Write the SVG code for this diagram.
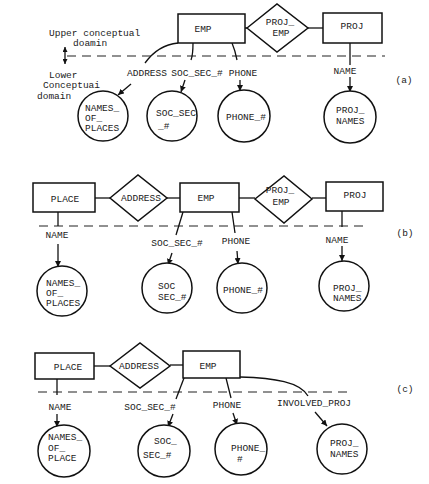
<svg xmlns="http://www.w3.org/2000/svg" width="429" height="484" viewBox="0 0 429 484">
<style>
text{font-family:"Liberation Mono","DejaVu Sans Mono",monospace;font-size:9.5px;fill:#222}
.m{text-anchor:middle}
.box{fill:#fff;stroke:#111;stroke-width:1.5}
.ln{fill:none;stroke:#111;stroke-width:1.3}
.ar{fill:none;stroke:#111;stroke-width:1.3;marker-end:url(#ah)}
.dash{fill:none;stroke:#222;stroke-width:1.2;stroke-dasharray:9 6}
</style>
<defs>
<marker id="ah" viewBox="0 0 10 10" refX="10" refY="5" markerWidth="6" markerHeight="6" markerUnits="userSpaceOnUse" orient="auto"><path d="M0,0L10,5L0,10z" fill="#111"/></marker>
<marker id="ahs" viewBox="0 0 10 10" refX="10" refY="5" markerWidth="5" markerHeight="5" markerUnits="userSpaceOnUse" orient="auto-start-reverse"><path d="M0,0L10,5L0,10z" fill="#111"/></marker>
</defs>
<rect width="429" height="484" fill="#fff"/>

<!-- Panel (a) -->
<g id="a-connectors">
<line class="dash" x1="67" y1="56" x2="385" y2="56"/>
<line class="ln" x1="65" y1="47" x2="65" y2="64" style="marker-start:url(#ahs);marker-end:url(#ahs)"/>
<line class="ln" x1="245" y1="28" x2="247" y2="28"/>
<line class="ln" x1="308" y1="28" x2="323" y2="28"/>
<path class="ln" d="M178,43 Q158,45 145,63"/>
<path class="ln" d="M193,43 Q193,55 191,60"/>
<path class="ln" d="M232,43 Q235,50 237,60"/>
<line class="ln" x1="350" y1="43" x2="350" y2="65"/>
<line class="ar" x1="131" y1="84" x2="118" y2="95"/>
<line class="ar" x1="185" y1="80" x2="181" y2="92"/>
<line class="ar" x1="240" y1="80" x2="240" y2="91"/>
<line class="ar" x1="350" y1="77" x2="350" y2="92"/>
</g>
<g id="a-legend">
<text x="49" y="36">Upper conceptual</text>
<text x="73" y="46">doamin</text>
<text x="49" y="78">Lower</text>
<text x="43" y="88">Conceptuai</text>
<text x="37" y="98.5">domain</text>
<text class="m" x="404" y="83">(a)</text>
</g>
<g id="a-emp"><rect class="box" x="178" y="14" width="67" height="29"/><text class="m" x="203" y="32">EMP</text></g>
<g id="a-projemp"><polygon class="box" points="247,28 277,4 308,28 277,52"/><text class="m" x="280" y="25">PROJ_</text><text class="m" x="281" y="35.5">EMP</text></g>
<g id="a-proj"><rect class="box" x="323" y="13" width="59" height="30"/><text class="m" x="352" y="29">PROJ</text></g>
<g id="a-labels">
<text class="m" x="147" y="76">ADDRESS</text>
<text class="m" x="197" y="76">SOC_SEC_#</text>
<text class="m" x="243" y="76">PHONE</text>
<text class="m" x="345" y="74">NAME</text>
</g>
<g id="a-names-of-places"><circle class="box" cx="103" cy="116" r="25"/><text x="85" y="111">NAMES_</text><text x="85" y="121">OF_</text><text x="85" y="131">PLACES</text></g>
<g id="a-soc-sec"><circle class="box" cx="172" cy="116" r="25"/><text x="156" y="116">SOC_SEC</text><text x="158" y="129">_#</text></g>
<g id="a-phone"><circle class="box" cx="244" cy="116" r="26"/><text x="226" y="120">PHONE_#</text></g>
<g id="a-proj-names"><circle class="box" cx="350" cy="117" r="26"/><text x="336" y="113">PROJ_</text><text x="336" y="123.5">NAMES</text></g>

<!-- Panel (b) -->
<g id="b-connectors">
<line class="dash" x1="39" y1="226" x2="368" y2="226"/>
<line class="ln" x1="95" y1="198" x2="110" y2="198"/>
<line class="ln" x1="167" y1="198" x2="180" y2="198"/>
<line class="ln" x1="239" y1="198" x2="255" y2="198"/>
<line class="ln" x1="312" y1="198" x2="326" y2="198"/>
<line class="ln" x1="58" y1="212" x2="58" y2="226"/>
<line class="ln" x1="183" y1="212" x2="176" y2="235"/>
<line class="ln" x1="232" y1="212" x2="235" y2="233"/>
<line class="ln" x1="342" y1="211" x2="342" y2="227"/>
<line class="ar" x1="58" y1="244" x2="58" y2="267"/>
<line class="ar" x1="172" y1="253" x2="168" y2="265"/>
<line class="ar" x1="237" y1="251" x2="238" y2="264"/>
<line class="ar" x1="342" y1="246" x2="342" y2="261"/>
</g>
<g id="b-place"><rect class="box" x="33" y="183" width="62" height="29"/><text class="m" x="65" y="202">PLACE</text></g>
<g id="b-address"><polygon class="box" points="110,198 138,175 167,198 138,221"/><text class="m" x="141" y="201">ADDRESS</text></g>
<g id="b-emp"><rect class="box" x="180" y="183" width="59" height="29"/><text class="m" x="206" y="201">EMP</text></g>
<g id="b-projemp"><polygon class="box" points="255,199 284,176 312,199 284,223"/><text class="m" x="280" y="193">PROJ_</text><text class="m" x="281" y="205">EMP</text></g>
<g id="b-proj"><rect class="box" x="326" y="182" width="57" height="29"/><text class="m" x="355" y="198">PROJ</text></g>
<g id="b-labels">
<text class="m" x="57" y="238">NAME</text>
<text class="m" x="177" y="246">SOC_SEC_#</text>
<text class="m" x="236" y="244">PHONE</text>
<text class="m" x="337" y="243">NAME</text>
<text class="m" x="405" y="236">(b)</text>
</g>
<g id="b-names-of-places"><circle class="box" cx="62" cy="291" r="25"/><text x="46" y="286">NAMES_</text><text x="46" y="296">OF_</text><text x="46" y="306">PLACES</text></g>
<g id="b-soc-sec"><circle class="box" cx="167" cy="288" r="25"/><text x="158" y="289">SOC</text><text x="158" y="299.5">SEC_#</text></g>
<g id="b-phone"><circle class="box" cx="242" cy="288" r="25"/><text x="223" y="293">PHONE_#</text></g>
<g id="b-proj-names"><circle class="box" cx="344" cy="286" r="25"/><text x="333" y="291">PROJ_</text><text x="333" y="301">NAMES</text></g>

<!-- Panel (c) -->
<g id="c-connectors">
<line class="dash" x1="38" y1="392" x2="353" y2="392"/>
<line class="ln" x1="94" y1="366" x2="110" y2="366"/>
<line class="ln" x1="170" y1="365" x2="183" y2="365"/>
<line class="ln" x1="57" y1="379" x2="57" y2="395"/>
<line class="ln" x1="184" y1="378" x2="176" y2="399"/>
<line class="ln" x1="226" y1="378" x2="231" y2="398"/>
<path class="ln" d="M240,377 C275,378 300,382 308,396"/>
<line class="ar" x1="57" y1="414" x2="57" y2="427"/>
<line class="ar" x1="173" y1="414" x2="168" y2="427"/>
<line class="ar" x1="233" y1="413" x2="237" y2="425"/>
<line class="ar" x1="315" y1="412" x2="327" y2="426"/>
</g>
<g id="c-place"><rect class="box" x="35" y="353" width="59" height="26"/><text class="m" x="68" y="370">PLACE</text></g>
<g id="c-address"><polygon class="box" points="110,366 140,343 170,366 140,388"/><text class="m" x="139" y="369">ADDRESS</text></g>
<g id="c-emp"><rect class="box" x="183" y="351" width="57" height="27"/><text class="m" x="208" y="369">EMP</text></g>
<g id="c-labels">
<text class="m" x="60" y="410">NAME</text>
<text class="m" x="150" y="410">SOC_SEC_#</text>
<text class="m" x="227" y="408">PHONE</text>
<text class="m" x="314" y="406">INVOLVED_PROJ</text>
<text class="m" x="405" y="392">(c)</text>
</g>
<g id="c-names-of-place"><circle class="box" cx="64" cy="451" r="26"/><text x="48" y="440">NAMES_</text><text x="48" y="450.5">OF_</text><text x="48" y="461">PLACE</text></g>
<g id="c-soc-sec"><circle class="box" cx="164" cy="451" r="26"/><text x="154" y="444">SOC_</text><text x="143" y="458">SEC_#</text></g>
<g id="c-phone"><circle class="box" cx="241" cy="449" r="26"/><text x="231" y="451">PHONE_</text><text x="237" y="462">#</text></g>
<g id="c-proj-names"><circle class="box" cx="342" cy="449" r="25"/><text x="330" y="446">PROJ_</text><text x="330" y="456.5">NAMES</text></g>
</svg>
